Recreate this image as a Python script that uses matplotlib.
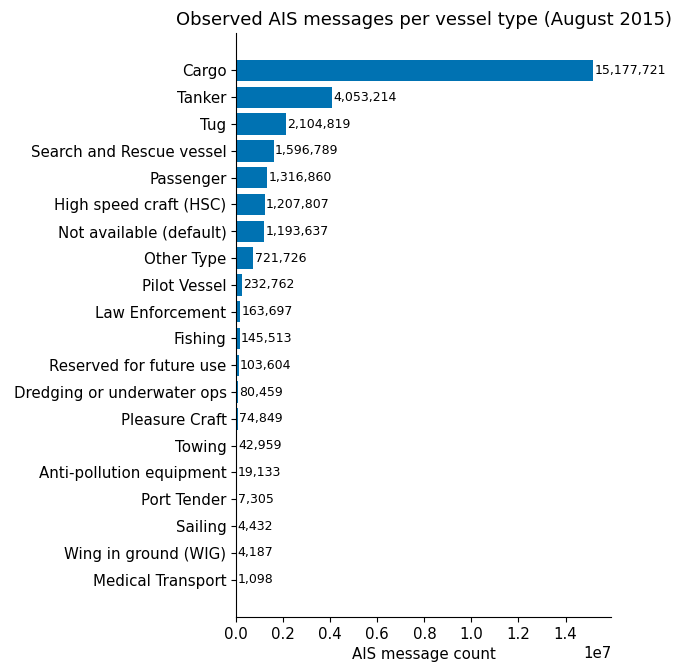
import matplotlib
matplotlib.use("Agg")
import matplotlib.pyplot as plt

vessel_types = [
    "Cargo", "Tanker", "Tug", "Search and Rescue vessel", "Passenger",
    "High speed craft (HSC)", "Not available (default)", "Other Type",
    "Pilot Vessel", "Law Enforcement", "Fishing", "Reserved for future use",
    "Dredging or underwater ops", "Pleasure Craft", "Towing",
    "Anti-pollution equipment", "Port Tender", "Sailing",
    "Wing in ground (WIG)", "Medical Transport",
]
message_counts = [
    15177721, 4053214, 2104819, 1596789, 1316860,
    1207807, 1193637, 721726,
    232762, 163697, 145513, 103604,
    80459, 74849, 42959,
    19133, 7305, 4432,
    4187, 1098,
]

plt.rcParams["font.size"] = 10.8

fig, ax = plt.subplots(figsize=(6.73, 6.64), dpi=100)
fig.subplots_adjust(left=0.351, right=0.908, top=0.950, bottom=0.071)

bars = ax.barh(vessel_types, message_counts, color="#0072B2")
ax.invert_yaxis()
ax.bar_label(bars, labels=[f"{v:,}" for v in message_counts], padding=1, fontsize=9)

ax.set_xlabel("AIS message count")
ax.set_title("Observed AIS messages per vessel type (August 2015)", fontsize=13)
ax.spines["top"].set_visible(False)
ax.spines["right"].set_visible(False)

fig.savefig("out.png", dpi=100)
plt.close(fig)
